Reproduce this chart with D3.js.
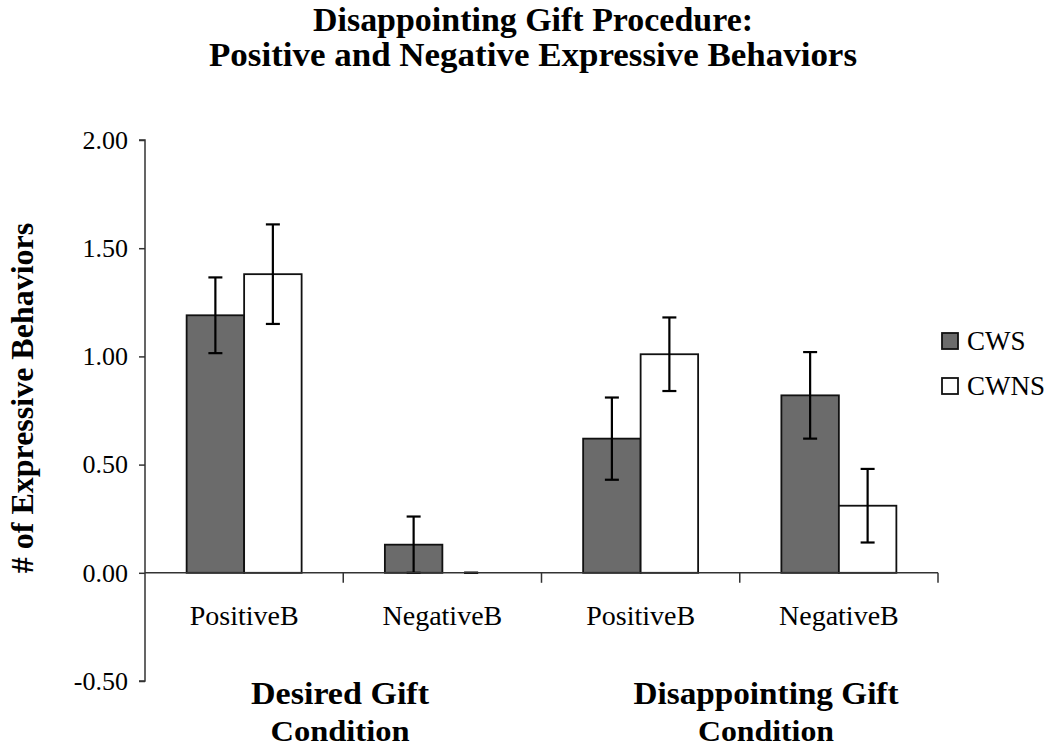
<!DOCTYPE html>
<html>
<head>
<meta charset="utf-8">
<script src="https://cdn.jsdelivr.net/npm/d3@7"></script>
<style>
  html, body { margin: 0; padding: 0; background: #fff; }
  svg { display: block; }
  text { font-family: "Liberation Serif", "Times New Roman", serif; fill: #000; }
</style>
</head>
<body>
<div id="chart"></div>
<script>
// ---- data ----
const categories = ["PositiveB", "NegativeB", "PositiveB", "NegativeB"];
const seriesNames = ["CWS", "CWNS"];
const cwsValues  = [1.19, 0.13, 0.62, 0.82];
const cwnsValues = [1.38, 0.00, 1.01, 0.31];
const cwsErrors  = [0.175, 0.13, 0.19, 0.20];
const cwnsErrors = [0.23, 0.00, 0.17, 0.17];
const yTicks = [-0.5, 0, 0.5, 1.0, 1.5, 2.0];
const yTickLabels = ["-0.50", "0.00", "0.50", "1.00", "1.50", "2.00"];
const groupLabels = [["Desired Gift", "Condition"], ["Disappointing Gift", "Condition"]];
const titleLines = ["Disappointing Gift Procedure:", "Positive and Negative Expressive Behaviors"];
const yTitle = "# of Expressive Behaviors";

(function () {
const W = 1050, H = 748;
const svg = d3.select("#chart").append("svg").attr("width", W).attr("height", H);

const pL = 145, pR = 938, pT = 140, pB = 681;
const y = d3.scaleLinear().domain([-0.5, 2.0]).range([pB, pT]);
const idx = categories.map((c, i) => i);
const x = d3.scaleBand().domain(idx).range([pL, pR]).paddingInner(0.42).paddingOuter(0.21);
const xs = d3.scaleBand().domain(seriesNames).range([0, x.bandwidth()]);
const fills = { CWS: "#6b6b6b", CWNS: "#ffffff" };

const data = idx.map(i => ({
  i,
  vals: [
    { s: "CWS", v: cwsValues[i], e: cwsErrors[i] },
    { s: "CWNS", v: cwnsValues[i], e: cwnsErrors[i] }
  ]
}));

// Title
svg.selectAll("text.title").data(titleLines).enter().append("text")
  .attr("class", "title")
  .attr("x", 533).attr("y", (d, i) => i === 0 ? 31 : 66)
  .attr("text-anchor", "middle")
  .attr("font-size", 33).attr("font-weight", "bold")
  .attr("textLength", (d, i) => i === 0 ? 440 : 648).attr("lengthAdjust", "spacingAndGlyphs")
  .text(d => d);

// Y axis
const yAxis = d3.axisLeft(y).tickValues(yTicks)
  .tickFormat((d, i) => yTickLabels[i]).tickSize(6).tickPadding(11);
const gy = svg.append("g").attr("transform", `translate(${pL},0)`).call(yAxis);
gy.select(".domain").attr("stroke", "#333").attr("stroke-width", 1.5).attr("d", `M-6,${pT}H0V${pB}H-6`);
gy.selectAll(".tick line").attr("stroke", "#333").attr("stroke-width", 1.5);
gy.selectAll(".tick text").attr("font-size", 26).attr("font-family", "Liberation Serif, Times New Roman, serif").attr("fill", "#000");

// Y title
svg.append("text")
  .attr("transform", `translate(33,398) rotate(-90)`)
  .attr("text-anchor", "middle")
  .attr("font-size", 32).attr("font-weight", "bold")
  .text(yTitle);

// Bars
const groups = svg.selectAll("g.grp").data(data).enter().append("g")
  .attr("class", "grp")
  .attr("transform", d => `translate(${x(d.i)},0)`);

groups.selectAll("rect").data(d => d.vals).enter().append("rect")
  .attr("x", d => xs(d.s))
  .attr("width", xs.bandwidth())
  .attr("y", d => y(Math.max(0, d.v)))
  .attr("height", d => Math.abs(y(d.v) - y(0)))
  .attr("fill", d => fills[d.s])
  .attr("stroke", "#111").attr("stroke-width", 1.8);

// X axis line & ticks
svg.append("line").attr("x1", pL).attr("x2", pR).attr("y1", y(0)).attr("y2", y(0))
  .attr("stroke", "#333").attr("stroke-width", 1.5);
svg.selectAll("line.xt").data(idx).enter().append("line")
  .attr("class", "xt")
  .attr("x1", d => x(d) + x.bandwidth() + x.step() * x.paddingInner() / 2)
  .attr("x2", d => x(d) + x.bandwidth() + x.step() * x.paddingInner() / 2)
  .attr("y1", y(0)).attr("y2", y(0) + 10)
  .attr("stroke", "#333").attr("stroke-width", 1.5);

// Error bars
const cap = 14;
const eb = groups.selectAll("g.eb").data(d => d.vals).enter().append("g").attr("class", "eb");
eb.append("line")
  .attr("x1", d => xs(d.s) + xs.bandwidth() / 2).attr("x2", d => xs(d.s) + xs.bandwidth() / 2)
  .attr("y1", d => y(d.v + d.e)).attr("y2", d => y(d.v - d.e))
  .attr("stroke", "#000").attr("stroke-width", 2.2);
eb.append("line")
  .attr("x1", d => xs(d.s) + xs.bandwidth() / 2 - cap / 2).attr("x2", d => xs(d.s) + xs.bandwidth() / 2 + cap / 2)
  .attr("y1", d => y(d.v + d.e)).attr("y2", d => y(d.v + d.e))
  .attr("stroke", "#000").attr("stroke-width", 2.2);
eb.append("line")
  .attr("x1", d => xs(d.s) + xs.bandwidth() / 2 - cap / 2).attr("x2", d => xs(d.s) + xs.bandwidth() / 2 + cap / 2)
  .attr("y1", d => y(d.v - d.e)).attr("y2", d => y(d.v - d.e))
  .attr("stroke", "#000").attr("stroke-width", 2.2);

// Category labels
svg.selectAll("text.cat").data(idx).enter().append("text")
  .attr("class", "cat")
  .attr("x", d => x(d) + x.bandwidth() / 2)
  .attr("y", 625)
  .attr("text-anchor", "middle")
  .attr("font-size", 28)
  .text(d => categories[d]);

// Group labels
const groupCenters = [340, 766];
const groupWidths = [[178, 139], [265, 136]];
groupLabels.forEach((lines, g) => {
  lines.forEach((t, k) => {
    svg.append("text")
      .attr("x", groupCenters[g]).attr("y", k === 0 ? 704 : 741)
      .attr("text-anchor", "middle")
      .attr("font-size", k === 0 ? 32 : 30).attr("font-weight", "bold")
      .attr("textLength", groupWidths[g][k]).attr("lengthAdjust", "spacingAndGlyphs")
      .text(t);
  });
});

// Legend
const leg = svg.selectAll("g.leg").data(seriesNames).enter().append("g")
  .attr("class", "leg")
  .attr("transform", (d, i) => `translate(942,${333 + i * 45})`);
leg.append("rect").attr("width", 16).attr("height", 16)
  .attr("fill", d => fills[d]).attr("stroke", "#111").attr("stroke-width", 1.8);
leg.append("text").attr("x", 25).attr("y", 17).attr("font-size", 27).text(d => d);
})();
</script>
</body>
</html>
